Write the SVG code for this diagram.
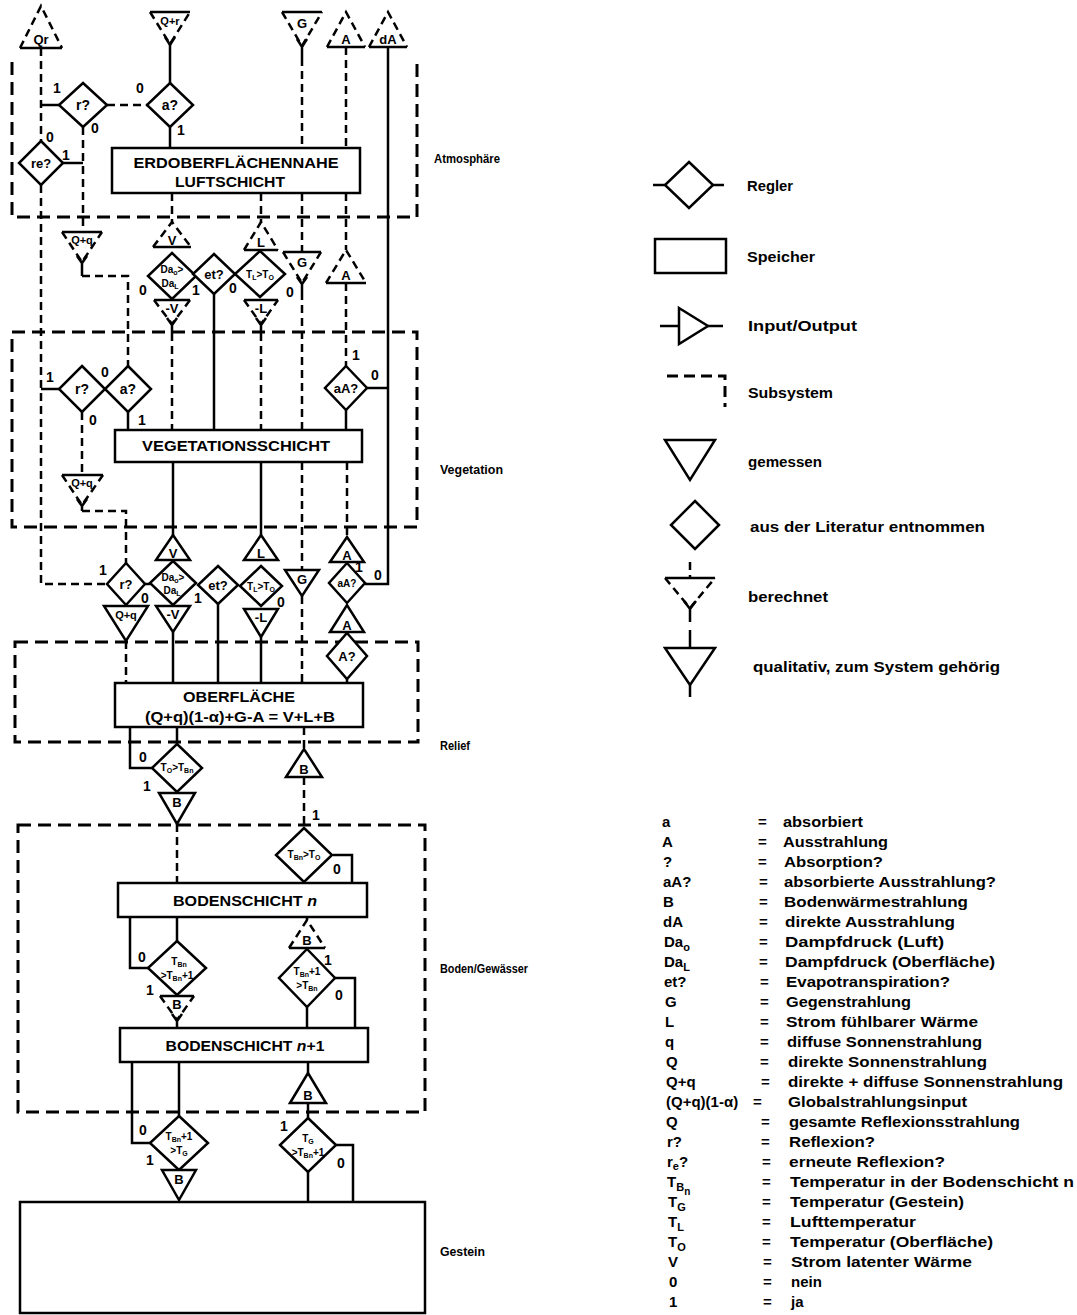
<svg xmlns="http://www.w3.org/2000/svg" width="1077" height="1315" viewBox="0 0 1077 1315">
<style>
.s{fill:none;stroke:#000;stroke-width:2.5}
.d{fill:none;stroke:#000;stroke-width:2.5;stroke-dasharray:8 5}
.fr{fill:none;stroke:#000;stroke-width:3;stroke-dasharray:13 7}
.n{fill:#fff;stroke:#000;stroke-width:2.5}
text{font-family:"Liberation Sans",Arial,sans-serif;font-weight:bold;fill:#000}
.t{font-size:13px;text-anchor:middle}
.t2{font-size:11px;text-anchor:middle}
.t9{font-size:10px;text-anchor:middle}
.lb{font-size:14px;text-anchor:middle}
.bx{font-size:15px;text-anchor:middle}
.sec{font-size:12.5px}
.lg{font-size:15px}
.gl{font-size:15px}
</style>
<rect x="0" y="0" width="1077" height="1315" fill="#fff"/>

<g id="frames">
<path class="fr" d="M12,62 V217 H417 V62"/>
<rect class="fr" x="12" y="332" width="405" height="195"/>
<rect class="fr" x="15" y="642" width="403" height="100"/>
<rect class="fr" x="18" y="825" width="407" height="287"/>
</g>

<g id="connectors">
<path class="s" d="M41,105 H59"/>
<path class="s" d="M170,44 V83"/>
<path class="s" d="M170,127 V148"/>
<path class="s" d="M63,163 H83"/>
<path class="s" d="M367,388 H388"/>
<path class="s" d="M388,47 V584 H365"/>
<path class="s" d="M214,294 V430"/>
<path class="s" d="M128,412 V430"/>
<path class="s" d="M41,389 H59"/>
<path class="s" d="M346,410 V430"/>
<path class="s" d="M173,462 V535"/>
<path class="s" d="M261,462 V535"/>
<path class="s" d="M145,584 H150"/>
<path class="s" d="M218,604 V683"/>
<path class="s" d="M173,632 V683"/>
<path class="s" d="M261,637 V683"/>
<path class="s" d="M347,679 V683"/>
<path class="s" d="M130,727 V768 H152"/>
<path class="s" d="M177,727 V744"/>
<path class="s" d="M333,855 H352 V883"/>
<path class="s" d="M130,917 V968 H148"/>
<path class="s" d="M177,917 V941"/>
<path class="s" d="M335,978 H355 V1028"/>
<path class="s" d="M307,1007 V1028"/>
<path class="s" d="M132,1062 V1143 H150"/>
<path class="s" d="M179,1062 V1116"/>
<path class="s" d="M308,1062 V1073"/>
<path class="s" d="M308,1103 V1118"/>
<path class="s" d="M336,1145 H353 V1202"/>
<path class="s" d="M308,1172 V1202"/>
<path class="d" d="M41,48 V141"/>
<path class="d" d="M107,105 H147"/>
<path class="d" d="M83,127 V232"/>
<path class="d" d="M41,185 V584 H107"/>
<path class="d" d="M302,58 V148"/>
<path class="d" d="M302,193 V252"/>
<path class="d" d="M302,292 V430"/>
<path class="d" d="M302,462 V570"/>
<path class="d" d="M302,596 V683"/>
<path class="d" d="M346,47 V148"/>
<path class="d" d="M346,193 V250"/>
<path class="d" d="M346,283 V366"/>
<path class="d" d="M347,462 V537"/>
<path class="d" d="M172,193 V222"/>
<path class="d" d="M261,193 V222"/>
<path class="d" d="M172,333 V430"/>
<path class="d" d="M261,333 V430"/>
<path class="d" d="M82,276 H128 V366"/>
<path class="d" d="M82,412 V475"/>
<path class="d" d="M82,511 H126 V563"/>
<path class="d" d="M126,641 V683"/>
<path class="d" d="M304,727 V749"/>
<path class="d" d="M304,777 V828"/>
<path class="d" d="M177,824 V883"/>
<path class="d" d="M307,917 V920"/>
<g id="branch-labels" class="lb">
<text x="57" y="93">1</text><text x="95" y="133">0</text><text x="140" y="93">0</text><text x="181" y="135">1</text>
<text x="50" y="142">0</text><text x="66" y="160">1</text>
<text x="143" y="295">0</text><text x="196" y="295">1</text><text x="233" y="293">0</text><text x="290" y="297">0</text>
<text x="50" y="382">1</text><text x="105" y="377">0</text><text x="93" y="425">0</text><text x="142" y="425">1</text>
<text x="356" y="360">1</text><text x="375" y="380">0</text>
<text x="103" y="575">1</text><text x="145" y="603">0</text><text x="198" y="603">1</text><text x="281" y="607">0</text>
<text x="359" y="572">1</text><text x="378" y="580">0</text>
<text x="143" y="762">0</text><text x="147" y="791">1</text><text x="316" y="820">1</text>
<text x="337" y="874">0</text><text x="142" y="962">0</text><text x="150" y="995">1</text>
<text x="328" y="965">1</text><text x="339" y="1000">0</text>
<text x="143" y="1135">0</text><text x="150" y="1165">1</text><text x="284" y="1131">1</text><text x="341" y="1168">0</text>
</g>
</g>

<!-- top inputs/outputs -->
<g id="n-qr"><path class="s" d="M20,48 H62"/><path class="d" d="M20,48 L41,6 L62,48"/><text class="t" x="41" y="44" font-size="12">Qr</text></g>
<g id="n-qplusr"><path class="s" d="M150,12 H190"/><path class="d" d="M150,12 L170,44 L190,12"/><path class="s" d="M165,37 L170,45 L175,37"/><text class="t2" x="170" y="25">Q+r</text></g>
<g id="n-g-top"><path class="s" d="M282,12 H322"/><path class="d" d="M282,12 L302,46 L322,12"/><path class="s" d="M297,39 L302,47 L307,39 M302,47 V58"/><text class="t" x="302" y="28">G</text></g>
<g id="n-a-top"><path class="s" d="M327,47 H365"/><path class="d" d="M327,47 L346,12 L365,47"/><text class="t" x="346" y="44">A</text></g>
<g id="n-da-top"><path class="s" d="M369,47 H407"/><path class="d" d="M369,47 L388,12 L407,47"/><text class="t" x="388" y="44" font-size="12">dA</text></g>

<!-- atmosphere -->
<g id="d-r1"><path class="n" d="M83,83 L107,105 L83,127 L59,105 Z"/><text class="lb" x="83" y="110" font-size="15">r?</text></g>
<g id="d-a1"><path class="n" d="M170,83 L193,105 L170,127 L147,105 Z"/><text class="lb" x="170" y="110" font-size="15">a?</text></g>
<g id="d-re"><path class="n" d="M41,141 L63,163 L41,185 L19,163 Z"/><text class="t" x="41" y="168" font-size="12">re?</text></g>
<g id="b-luft"><rect class="n" x="112" y="148" width="248" height="45"/><text class="bx" x="236" y="168" textLength="205" lengthAdjust="spacingAndGlyphs">ERDOBERFLÄCHENNAHE</text><text class="bx" x="230" y="187" textLength="110" lengthAdjust="spacingAndGlyphs">LUFTSCHICHT</text></g>

<!-- atmosphere / vegetation interface -->
<g id="n-qq1"><path class="s" d="M62,232 H102"/><path class="d" d="M62,232 L82,262 L102,232"/><path class="s" d="M77,256 L82,263 L87,256 M82,263 V276"/><text class="t2" x="82" y="244">Q+q</text></g>
<g id="n-v1"><path class="s" d="M153,247 H191"/><path class="d" d="M153,247 L172,222 L191,247"/><text class="t" x="172" y="245">V</text></g>
<g id="d-da1"><path class="n" d="M172,253 L196,276 L172,299 L148,276 Z"/><text class="t9" x="172" y="273">Da<tspan font-size="7" dy="2">o</tspan><tspan dy="-2">&gt;</tspan></text><text class="t9" x="170" y="287">Da<tspan font-size="7" dy="2">L</tspan></text></g>
<g id="n-mv1"><path class="s" d="M154,300 H190"/><path class="d" d="M154,300 L172,324 L190,300"/><path class="s" d="M167,318 L172,325 L177,318 M172,325 V333"/><text class="t" x="172" y="313" font-size="12">-V</text></g>
<g id="d-et1"><path class="n" d="M214,254 L235,274 L214,294 L193,274 Z"/><text class="t" x="214" y="279" font-size="12">et?</text></g>
<g id="d-tl1"><path class="n" d="M260,251 L285,274 L260,297 L235,274 Z"/><text class="t9" x="260" y="278">T<tspan font-size="7" dy="2">L</tspan><tspan dy="-2">&gt;T</tspan><tspan font-size="7" dy="2">O</tspan></text></g>
<g id="n-l1"><path class="s" d="M244,250 H278"/><path class="d" d="M244,250 L261,222 L278,250"/><text class="t" x="261" y="247">L</text></g>
<g id="n-ml1"><path class="s" d="M244,300 H278"/><path class="d" d="M244,300 L261,324 L278,300"/><path class="s" d="M256,318 L261,325 L266,318 M261,325 V333"/><text class="t" x="261" y="313" font-size="12">-L</text></g>
<g id="n-g1"><path class="s" d="M283,252 H321"/><path class="d" d="M283,252 L302,283 L321,252"/><path class="s" d="M297,277 L302,284 L307,277 M302,284 V292"/><text class="t" x="302" y="267">G</text></g>
<g id="n-a1"><path class="s" d="M326,283 H366"/><path class="d" d="M326,283 L346,250 L366,283"/><text class="t" x="346" y="280">A</text></g>

<!-- vegetation -->
<g id="d-r2"><path class="n" d="M82,366 L105,389 L82,412 L59,389 Z"/><text class="lb" x="82" y="394" font-size="15">r?</text></g>
<g id="d-a2"><path class="n" d="M128,366 L151,389 L128,412 L105,389 Z"/><text class="lb" x="128" y="394" font-size="15">a?</text></g>
<g id="d-aa1"><path class="n" d="M346,366 L367,388 L346,410 L325,388 Z"/><text class="t" x="346" y="393" font-size="12">aA?</text></g>
<g id="n-qq2"><path class="s" d="M62,475 H103"/><path class="d" d="M62,475 L82,505 L103,475"/><path class="s" d="M77,499 L82,506 L87,499 M82,506 V511"/><text class="t2" x="82" y="487">Q+q</text></g>
<g id="b-veg"><rect class="n" x="115" y="430" width="247" height="32"/><text class="bx" x="236" y="451" textLength="188" lengthAdjust="spacingAndGlyphs">VEGETATIONSSCHICHT</text></g>

<!-- below vegetation -->
<g id="n-v2"><path class="n" d="M156,560 L173,535 L190,560 Z"/><text class="t" x="173" y="558">V</text></g>
<g id="n-l2"><path class="n" d="M244,560 L261,535 L278,560 Z"/><text class="t" x="261" y="558">L</text></g>
<g id="n-a2"><path class="n" d="M330,562 L347,537 L364,562 Z"/><text class="t" x="347" y="560">A</text></g>
<g id="d-r3"><path class="n" d="M126,563 L145,584 L126,605 L107,584 Z"/><text class="t" x="126" y="589">r?</text></g>
<g id="d-da2"><path class="n" d="M173,561 L196,583 L173,605 L150,583 Z"/><text class="t9" x="173" y="581">Da<tspan font-size="7" dy="2">o</tspan><tspan dy="-2">&gt;</tspan></text><text class="t9" x="172" y="594">Da<tspan font-size="7" dy="2">L</tspan></text></g>
<g id="d-et2"><path class="n" d="M218,566 L238,585 L218,604 L198,585 Z"/><text class="t" x="218" y="590" font-size="12">et?</text></g>
<g id="d-tl2"><path class="n" d="M261,566 L282,586 L261,606 L240,586 Z"/><text class="t9" x="261" y="590">T<tspan font-size="7" dy="2">L</tspan><tspan dy="-2">&gt;T</tspan><tspan font-size="7" dy="2">O</tspan></text></g>
<g id="n-g2"><path class="n" d="M285,570 H319 L302,596 Z"/><text class="t" x="302" y="584">G</text></g>
<g id="d-aa2"><path class="n" d="M347,563 L365,583 L347,603 L329,583 Z"/><text class="t9" x="347" y="587">aA?</text></g>
<g id="n-qq3"><path class="n" d="M104,606 H148 L126,641 Z"/><text class="t2" x="126" y="619">Q+q</text></g>
<g id="n-mv2"><path class="n" d="M156,606 H190 L173,632 Z"/><text class="t" x="173" y="619" font-size="12">-V</text></g>
<g id="n-ml2"><path class="n" d="M244,609 H278 L261,637 Z"/><text class="t" x="261" y="622" font-size="12">-L</text></g>
<g id="n-a3"><path class="n" d="M330,632 L347,605 L364,632 Z"/><text class="t" x="347" y="630">A</text></g>
<g id="d-aq"><path class="n" d="M347,633 L367,656 L347,679 L327,656 Z"/><text class="t" x="347" y="661">A?</text></g>

<!-- relief -->
<g id="b-ober"><rect class="n" x="115" y="683" width="248" height="44"/><text class="bx" x="239" y="702" textLength="112" lengthAdjust="spacingAndGlyphs">OBERFLÄCHE</text><text class="bx" x="240" y="722" textLength="190" lengthAdjust="spacingAndGlyphs">(Q+q)(1-α)+G-A = V+L+B</text></g>
<g id="d-tob"><path class="n" d="M177,744 L202,768 L177,792 L152,768 Z"/><text class="t9" x="177" y="771">T<tspan font-size="7" dy="2">O</tspan><tspan dy="-2">&gt;T</tspan><tspan font-size="7" dy="2">Bn</tspan></text></g>
<g id="n-b1"><path class="n" d="M159,793 H195 L177,824 Z"/><text class="t" x="177" y="807">B</text></g>
<g id="n-b2"><path class="n" d="M286,777 L304,749 L322,777 Z"/><text class="t" x="304" y="774">B</text></g>

<!-- soil -->
<g id="d-tbo"><path class="n" d="M304,828 L332,855 L304,882 L276,855 Z"/><text class="t9" x="304" y="858">T<tspan font-size="7" dy="2">Bn</tspan><tspan dy="-2">&gt;T</tspan><tspan font-size="7" dy="2">O</tspan></text></g>
<g id="b-boden-n"><rect class="n" x="118" y="883" width="249" height="34"/><text class="bx" x="245" y="906" textLength="144" lengthAdjust="spacingAndGlyphs">BODENSCHICHT <tspan font-style="italic">n</tspan></text></g>
<g id="d-tbb1"><path class="n" d="M177,941 L206,968 L177,995 L148,968 Z"/><text class="t9" x="179" y="965">T<tspan font-size="7" dy="2">Bn</tspan></text><text class="t9" x="177" y="979">&gt;T<tspan font-size="7" dy="2">Bn</tspan><tspan dy="-2">+1</tspan></text></g>
<g id="n-b3"><path class="s" d="M160,996 H194"/><path class="d" d="M160,996 L177,1020 L194,996"/><path class="s" d="M172,1014 L177,1021 L182,1014 M177,1021 V1028"/><text class="t" x="177" y="1009">B</text></g>
<g id="n-b4"><path class="s" d="M289,948 H325"/><path class="d" d="M289,948 L307,920 L325,948"/><text class="t" x="307" y="945">B</text></g>
<g id="d-tbb2"><path class="n" d="M307,949 L335,978 L307,1007 L279,978 Z"/><text class="t9" x="307" y="975">T<tspan font-size="7" dy="2">Bn</tspan><tspan dy="-2">+1</tspan></text><text class="t9" x="307" y="989">&gt;T<tspan font-size="7" dy="2">Bn</tspan></text></g>
<g id="b-boden-n1"><rect class="n" x="120" y="1028" width="248" height="34"/><text class="bx" x="245" y="1051" textLength="159" lengthAdjust="spacingAndGlyphs">BODENSCHICHT <tspan font-style="italic">n</tspan>+1</text></g>
<g id="d-tbg"><path class="n" d="M179,1116 L208,1143 L179,1170 L150,1143 Z"/><text class="t9" x="179" y="1140">T<tspan font-size="7" dy="2">Bn</tspan><tspan dy="-2">+1</tspan></text><text class="t9" x="179" y="1154">&gt;T<tspan font-size="7" dy="2">G</tspan></text></g>
<g id="n-b5"><path class="n" d="M162,1170 H196 L179,1200 Z"/><text class="t" x="179" y="1184">B</text></g>
<g id="n-b6"><path class="n" d="M290,1103 L308,1073 L326,1103 Z"/><text class="t" x="308" y="1100">B</text></g>
<g id="d-tgb"><path class="n" d="M308,1118 L336,1145 L308,1172 L280,1145 Z"/><text class="t9" x="308" y="1142">T<tspan font-size="7" dy="2">G</tspan></text><text class="t9" x="308" y="1156">&gt;T<tspan font-size="7" dy="2">Bn</tspan><tspan dy="-2">+1</tspan></text></g>
<g id="b-gestein"><rect class="n" x="20" y="1202" width="405" height="111"/></g>

<g id="section-labels" class="sec">
<text x="434" y="163" textLength="66" lengthAdjust="spacingAndGlyphs">Atmosphäre</text>
<text x="440" y="474" textLength="63" lengthAdjust="spacingAndGlyphs">Vegetation</text>
<text x="440" y="750" textLength="30" lengthAdjust="spacingAndGlyphs">Relief</text>
<text x="440" y="973" textLength="88" lengthAdjust="spacingAndGlyphs">Boden/Gewässer</text>
<text x="440" y="1256" textLength="45" lengthAdjust="spacingAndGlyphs">Gestein</text>
</g>

<g id="legend">
<path class="s" d="M653,185 H665 M713,185 H724"/>
<path class="n" d="M689,162 L713,185 L689,208 L665,185 Z"/>
<text class="lg" x="747" y="191" textLength="46" lengthAdjust="spacingAndGlyphs">Regler</text>
<rect class="n" x="655" y="239" width="71" height="34"/>
<text class="lg" x="747" y="262" textLength="68" lengthAdjust="spacingAndGlyphs">Speicher</text>
<path class="s" d="M660,326 H679 M708,326 H723"/>
<path class="n" d="M679,308 L708,326 L679,344 Z"/>
<text class="lg" x="748" y="331" textLength="109" lengthAdjust="spacingAndGlyphs">Input/Output</text>
<path class="fr" d="M667,376 H725 V407" style="stroke-dasharray:11 6"/>
<text class="lg" x="748" y="398" textLength="85" lengthAdjust="spacingAndGlyphs">Subsystem</text>
<path class="n" d="M665,440 H715 L690,480 Z"/>
<text class="lg" x="748" y="467" textLength="74" lengthAdjust="spacingAndGlyphs">gemessen</text>
<path class="n" d="M695,501 L719,525 L695,549 L671,525 Z"/>
<text class="lg" x="750" y="532" textLength="235" lengthAdjust="spacingAndGlyphs">aus der Literatur entnommen</text>
<path class="d" d="M690,562 V577"/>
<path class="s" d="M665,578 H715"/>
<path class="d" d="M665,578 L690,608 L715,578"/>
<path class="s" d="M684,601 L690,609 L696,601 M690,609 V622"/>
<text class="lg" x="748" y="602" textLength="80" lengthAdjust="spacingAndGlyphs">berechnet</text>
<path class="s" d="M690,630 V648"/>
<path class="n" d="M665,648 H715 L690,685 Z"/>
<path class="s" d="M690,685 V697"/>
<text class="lg" x="753" y="672" textLength="247" lengthAdjust="spacingAndGlyphs">qualitativ, zum System gehörig</text>
</g>

<g id="glossary" class="gl">
<text x="662" y="827">a</text><text x="758" y="827">=</text><text x="783" y="827" textLength="80" lengthAdjust="spacingAndGlyphs">absorbiert</text>
<text x="662" y="847">A</text><text x="758" y="847">=</text><text x="783" y="847" textLength="105" lengthAdjust="spacingAndGlyphs">Ausstrahlung</text>
<text x="663" y="867">?</text><text x="758" y="867">=</text><text x="784" y="867" textLength="99" lengthAdjust="spacingAndGlyphs">Absorption?</text>
<text x="663" y="887">aA?</text><text x="759" y="887">=</text><text x="784" y="887" textLength="212" lengthAdjust="spacingAndGlyphs">absorbierte Ausstrahlung?</text>
<text x="663" y="907">B</text><text x="759" y="907">=</text><text x="784" y="907" textLength="184" lengthAdjust="spacingAndGlyphs">Bodenwärmestrahlung</text>
<text x="663" y="927">dA</text><text x="759" y="927">=</text><text x="785" y="927" textLength="170" lengthAdjust="spacingAndGlyphs">direkte Ausstrahlung</text>
<text x="664" y="947">Da<tspan font-size="11" dy="4">o</tspan></text><text x="759" y="947">=</text><text x="785" y="947" textLength="159" lengthAdjust="spacingAndGlyphs">Dampfdruck (Luft)</text>
<text x="664" y="967">Da<tspan font-size="11" dy="4">L</tspan></text><text x="759" y="967">=</text><text x="785" y="967" textLength="210" lengthAdjust="spacingAndGlyphs">Dampfdruck (Oberfläche)</text>
<text x="664" y="987">et?</text><text x="760" y="987">=</text><text x="786" y="987" textLength="164" lengthAdjust="spacingAndGlyphs">Evapotranspiration?</text>
<text x="665" y="1007">G</text><text x="760" y="1007">=</text><text x="786" y="1007" textLength="125" lengthAdjust="spacingAndGlyphs">Gegenstrahlung</text>
<text x="665" y="1027">L</text><text x="760" y="1027">=</text><text x="786" y="1027" textLength="192" lengthAdjust="spacingAndGlyphs">Strom fühlbarer Wärme</text>
<text x="665" y="1047">q</text><text x="760" y="1047">=</text><text x="787" y="1047" textLength="195" lengthAdjust="spacingAndGlyphs">diffuse Sonnenstrahlung</text>
<text x="666" y="1067">Q</text><text x="760" y="1067">=</text><text x="788" y="1067" textLength="199" lengthAdjust="spacingAndGlyphs">direkte Sonnenstrahlung</text>
<text x="666" y="1087">Q+q</text><text x="761" y="1087">=</text><text x="788" y="1087" textLength="275" lengthAdjust="spacingAndGlyphs">direkte + diffuse Sonnenstrahlung</text>
<text x="666" y="1107">(Q+q)(1-α)</text><text x="753" y="1107">=</text><text x="788" y="1107" textLength="179" lengthAdjust="spacingAndGlyphs">Globalstrahlungsinput</text>
<text x="666" y="1127">Q</text><text x="761" y="1127">=</text><text x="789" y="1127" textLength="231" lengthAdjust="spacingAndGlyphs">gesamte Reflexionsstrahlung</text>
<text x="667" y="1147">r?</text><text x="761" y="1147">=</text><text x="789" y="1147" textLength="86" lengthAdjust="spacingAndGlyphs">Reflexion?</text>
<text x="667" y="1167">r<tspan font-size="11" dy="3">e</tspan><tspan dy="-3">?</tspan></text><text x="762" y="1167">=</text><text x="789" y="1167" textLength="156" lengthAdjust="spacingAndGlyphs">erneute Reflexion?</text>
<text x="667" y="1187">T<tspan font-size="11" dy="4">B</tspan><tspan font-size="10" dy="4">n</tspan></text><text x="762" y="1187">=</text><text x="790" y="1187" textLength="284" lengthAdjust="spacingAndGlyphs">Temperatur in der Bodenschicht n</text>
<text x="668" y="1207">T<tspan font-size="11" dy="4">G</tspan></text><text x="762" y="1207">=</text><text x="790" y="1207" textLength="174" lengthAdjust="spacingAndGlyphs">Temperatur (Gestein)</text>
<text x="668" y="1227">T<tspan font-size="11" dy="4">L</tspan></text><text x="762" y="1227">=</text><text x="790" y="1227" textLength="126" lengthAdjust="spacingAndGlyphs">Lufttemperatur</text>
<text x="668" y="1247">T<tspan font-size="11" dy="4">O</tspan></text><text x="762" y="1247">=</text><text x="790" y="1247" textLength="203" lengthAdjust="spacingAndGlyphs">Temperatur (Oberfläche)</text>
<text x="668" y="1267">V</text><text x="763" y="1267">=</text><text x="791" y="1267" textLength="181" lengthAdjust="spacingAndGlyphs">Strom latenter Wärme</text>
<text x="669" y="1287">0</text><text x="763" y="1287">=</text><text x="791" y="1287">nein</text>
<text x="669" y="1307">1</text><text x="763" y="1307">=</text><text x="791" y="1307">ja</text>
</g>
</svg>
